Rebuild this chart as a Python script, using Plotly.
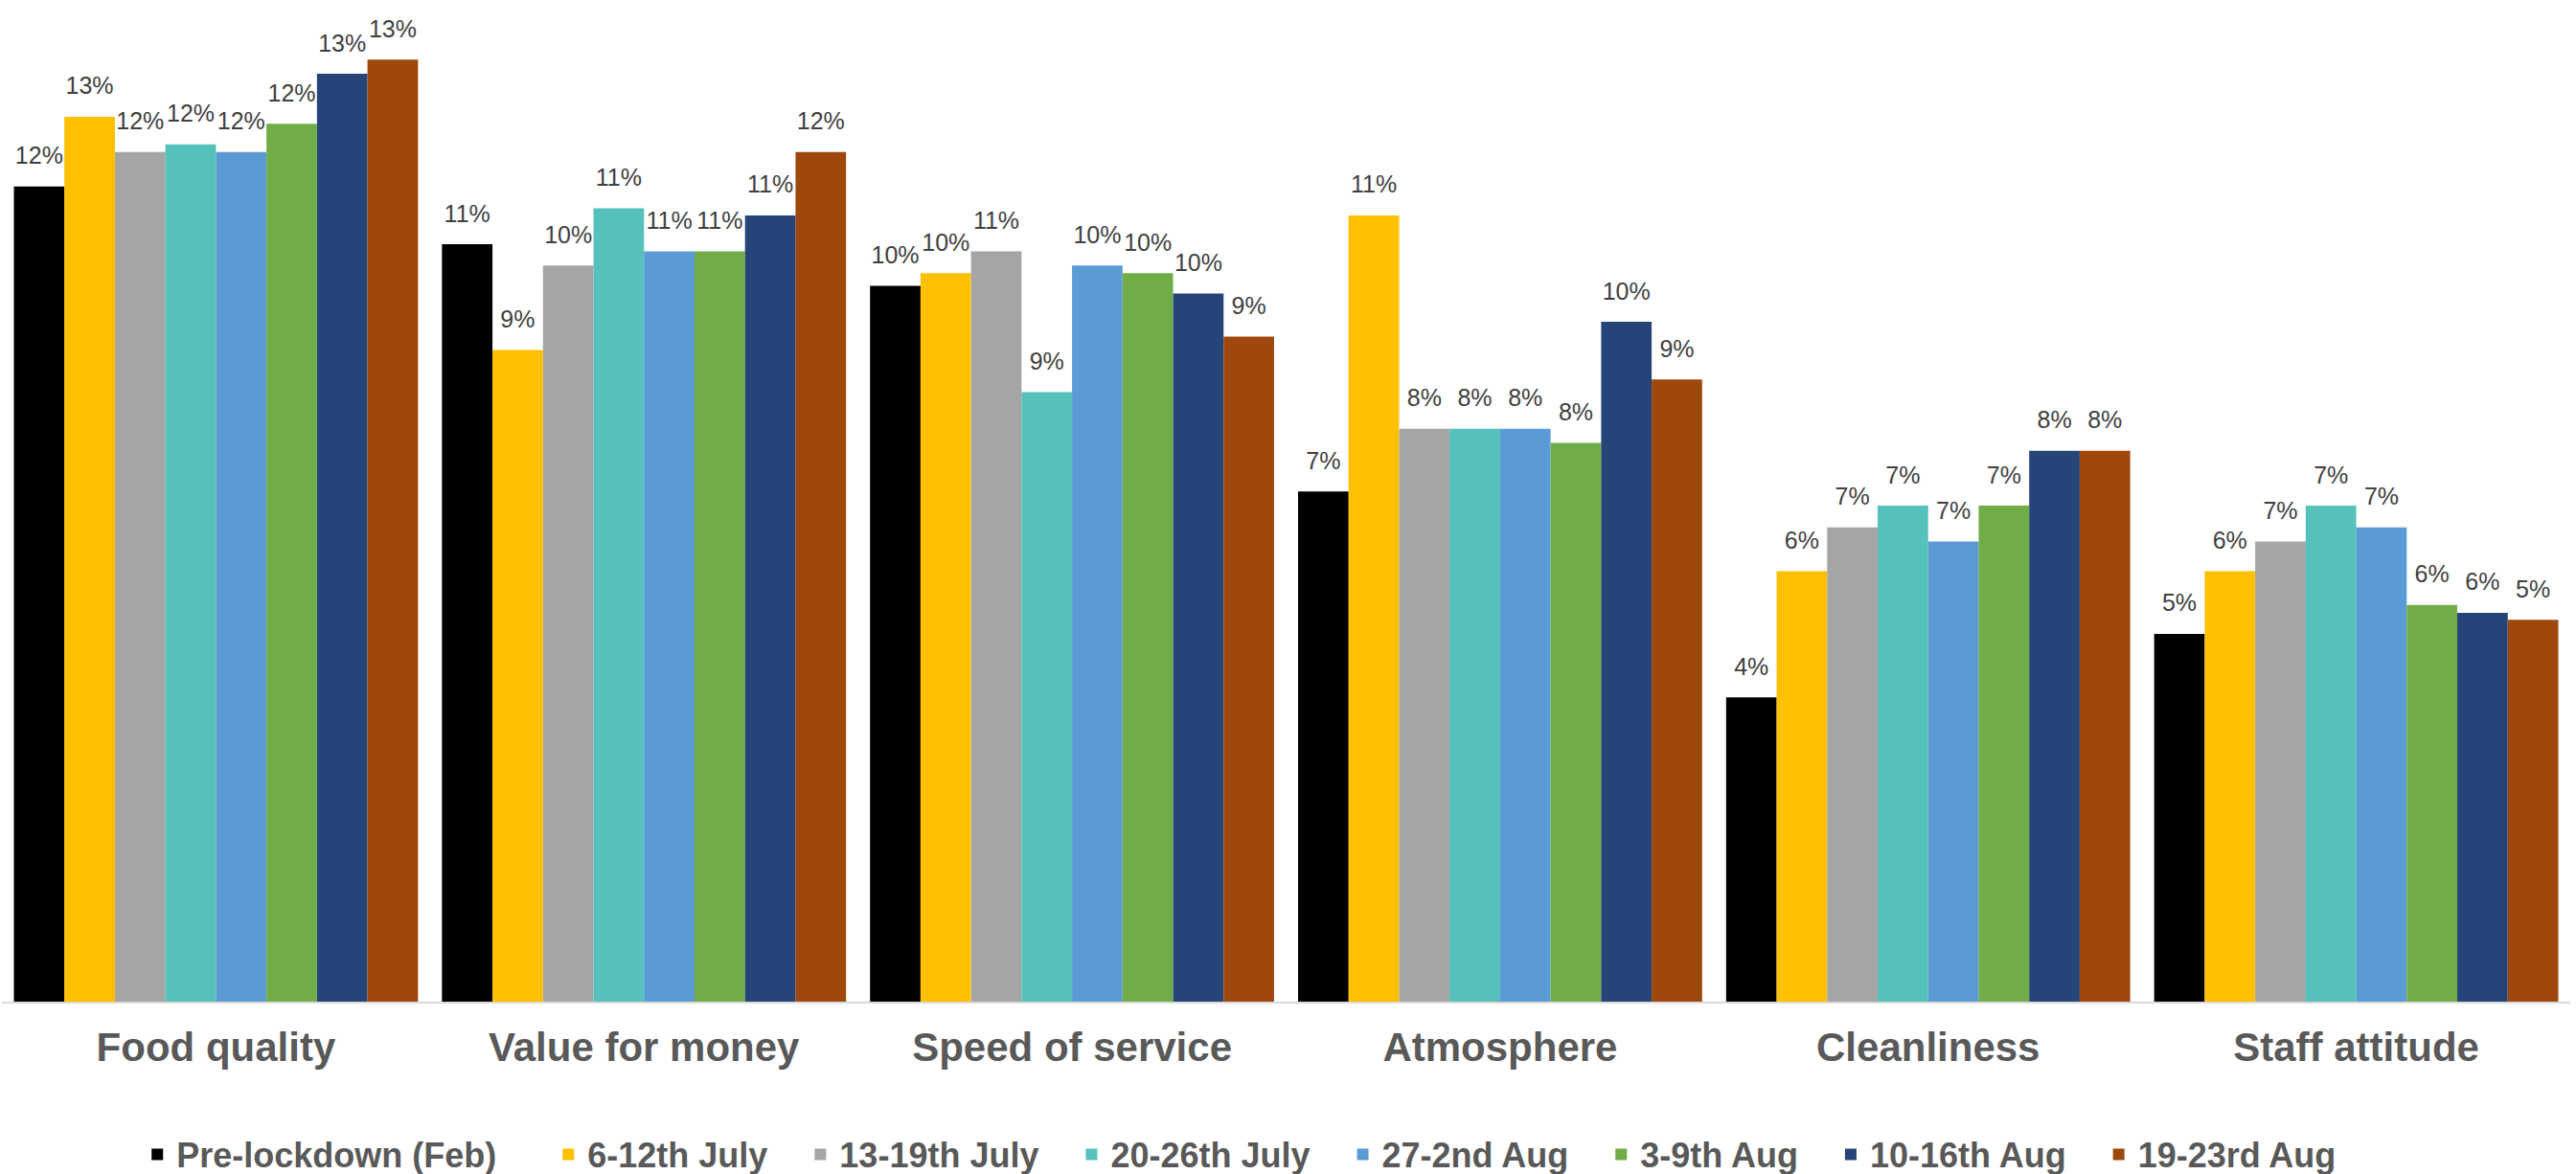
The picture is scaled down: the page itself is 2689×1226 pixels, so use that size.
import plotly.graph_objects as go

categories = ["Food quality", "Value for money", "Speed of service",
              "Atmosphere", "Cleanliness", "Staff attitude"]

series_names = ["Pre-lockdown (Feb)", "6-12th July", "13-19th July", "20-26th July",
                "27-2nd Aug", "3-9th Aug", "10-16th Aug", "19-23rd Aug"]

pre_lockdown = [11.57, 10.75, 10.16, 7.24, 4.32, 5.22]
jul_06_12 = [12.56, 9.25, 10.34, 11.16, 6.11, 6.11]
jul_13_19 = [12.06, 10.45, 10.65, 8.13, 6.73, 6.53]
jul_20_26 = [12.17, 11.26, 8.65, 8.13, 7.04, 7.04]
jul27_aug02 = [12.06, 10.65, 10.45, 8.13, 6.53, 6.73]
aug_03_09 = [12.46, 10.65, 10.34, 7.93, 7.04, 5.63]
aug_10_16 = [13.17, 11.16, 10.05, 9.65, 7.82, 5.52]
aug_19_23 = [13.37, 12.06, 9.44, 8.83, 7.82, 5.42]

series_values = [pre_lockdown, jul_06_12, jul_13_19, jul_20_26,
                 jul27_aug02, aug_03_09, aug_10_16, aug_19_23]

colors = ["#000000", "#FFC000", "#A5A5A5", "#55C1BA",
          "#5B9BD5", "#70AD47", "#264478", "#9E480E"]

FONT = "Liberation Sans, Arial, Helvetica, sans-serif"
NB = "\u00a0"
GAP = 0.056

fig = go.Figure()
for i, (name, vals, col) in enumerate(zip(series_names, series_values, colors)):
    pad = NB * (5 if i == 0 else (0 if i == len(series_names) - 1 else 3))
    fig.add_trace(go.Bar(
        name=name + pad, x=categories, y=vals,
        marker=dict(color=col, line=dict(width=0)),
        hovertemplate=name + ": %{y:.0f}%<extra></extra>",
    ))
for name, vals in zip(series_names, series_values):
    fig.add_trace(go.Scatter(
        x=categories, y=vals, mode="markers+text",
        marker=dict(size=26, color="rgba(0,0,0,0)"),
        text=[f"{v:.0f}%" for v in vals],
        textposition="top center",
        textfont=dict(family=FONT, size=25, color="#404040"),
        showlegend=False, hoverinfo="skip", cliponaxis=False,
    ))

fig.update_layout(
    width=2689, height=1226,
    barmode="group", bargap=GAP, bargroupgap=0,
    scattermode="group", scattergap=GAP,
    plot_bgcolor="white", paper_bgcolor="white",
    margin=dict(l=2, r=6, t=16, b=180, autoexpand=False),
    font=dict(family=FONT),
    showlegend=True,
    legend=dict(
        orientation="h", x=0.482, xanchor="center",
        y=-0.184, yanchor="bottom",
        font=dict(family=FONT, size=36, color="#595959", weight="bold"),
        traceorder="normal",
    ),
    xaxis=dict(
        showline=True, linecolor="#D9D9D9", linewidth=2,
        ticks="", showgrid=False,
        tickfont=dict(family=FONT, size=42, color="#595959", weight="bold"),
        ticklabelstandoff=10,
    ),
    yaxis=dict(
        range=[0, 14], visible=False, showgrid=False, zeroline=False,
    ),
)

fig.write_html("out.html")
